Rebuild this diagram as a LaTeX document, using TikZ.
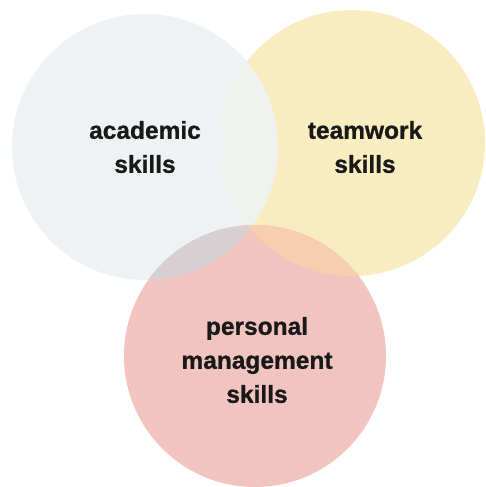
\documentclass[tikz,border=0pt]{standalone}
\usepackage{fontspec}
\setmainfont{Liberation Sans}[BoldFeatures={FakeBold=0.9}]
\begin{document}
\definecolor{acadfill}{HTML}{EEF2F3}
\definecolor{teamfill}{HTML}{F8ECC0}
\definecolor{persfill}{HTML}{F1C4C0}
\definecolor{acadteam}{HTML}{F0F2F0}
\definecolor{acadpers}{HTML}{D6D0D3}
\definecolor{teampers}{HTML}{F6CFAF}
\begin{tikzpicture}[x=1pt,y=-1pt,
  label/.style={font=\bfseries\fontsize{24.5}{34}\selectfont, align=center, text=black!90}]
  \useasboundingbox (0,0) rectangle (486,487);
  % three skill areas
  \fill[acadfill] (145,147) circle[radius=133];
  \fill[teamfill] (352,143) circle[radius=133];
  \fill[persfill] (255,356) circle[radius=131];
  % overlaps
  \begin{scope}
    \clip (145,147) circle[radius=133];
    \fill[acadteam] (352,143) circle[radius=133];
  \end{scope}
  \begin{scope}
    \clip (145,147) circle[radius=133];
    \fill[acadpers] (255,356) circle[radius=131];
  \end{scope}
  \begin{scope}
    \clip (352,143) circle[radius=133];
    \fill[teampers] (255,356) circle[radius=131];
  \end{scope}
  % labels
  \node[label] (acad) at (145,147) {academic\\skills};
  \node[label] (team) at (365,147) {teamwork\\skills};
  \node[label] (pers) at (257,360) {personal\\management\\skills};
\end{tikzpicture}
\end{document}
